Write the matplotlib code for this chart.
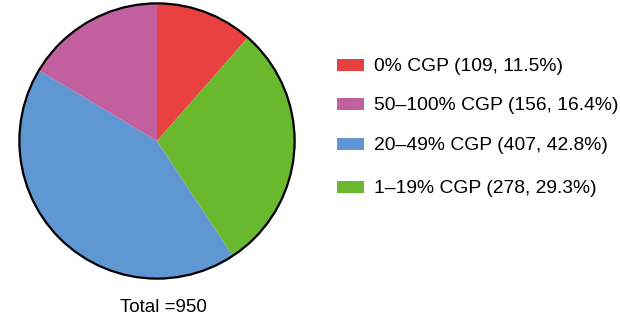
import matplotlib.pyplot as plt
from matplotlib.patches import Circle, Rectangle

# data
labels = ['0% CGP', '1\u201319% CGP', '20\u201349% CGP', '50\u2013100% CGP']
counts = [109, 278, 407, 156]
pcts = [11.5, 29.3, 42.8, 16.4]
colors = ['#E8413F', '#6AB82E', '#5F97D2', '#C25F9F']
legend_order = [0, 3, 2, 1]
total = 950

plt.rcParams['font.family'] = ['Liberation Sans', 'DejaVu Sans']

W, H = 620, 322
fig = plt.figure(figsize=(W / 100, H / 100), dpi=100)

# pie axes (square in pixels)
ax = fig.add_axes([18 / W, 42 / H, 278 / W, 278 / H])
ax.pie(counts, colors=colors, startangle=90, counterclock=False,
       wedgeprops={'linewidth': 0})
ax.add_patch(Circle((0, 0), 1, fill=False, edgecolor='black', linewidth=1.6))
ax.set_xlim(-1.01, 1.01)
ax.set_ylim(-1.01, 1.01)
ax.set_aspect('auto')
ax.axis('off')

fig.text(163 / W, 1 - 307 / H, f'Total ={total}', ha='center', va='center',
         fontsize=13.5)

# legend drawn by hand
row_y = [65, 104, 144, 187]
for y, i in zip(row_y, legend_order):
    fig.patches.append(Rectangle((337 / W, 1 - (y + 6) / H), 27 / W, 12 / H,
                                 facecolor=colors[i], edgecolor='none',
                                 transform=fig.transFigure))
    fig.text(374 / W, 1 - (y + 1.5) / H,
             f'{labels[i]} ({counts[i]}, {pcts[i]}%)',
             ha='left', va='center', fontsize=13.85)

fig.savefig('out.png', dpi=100)
